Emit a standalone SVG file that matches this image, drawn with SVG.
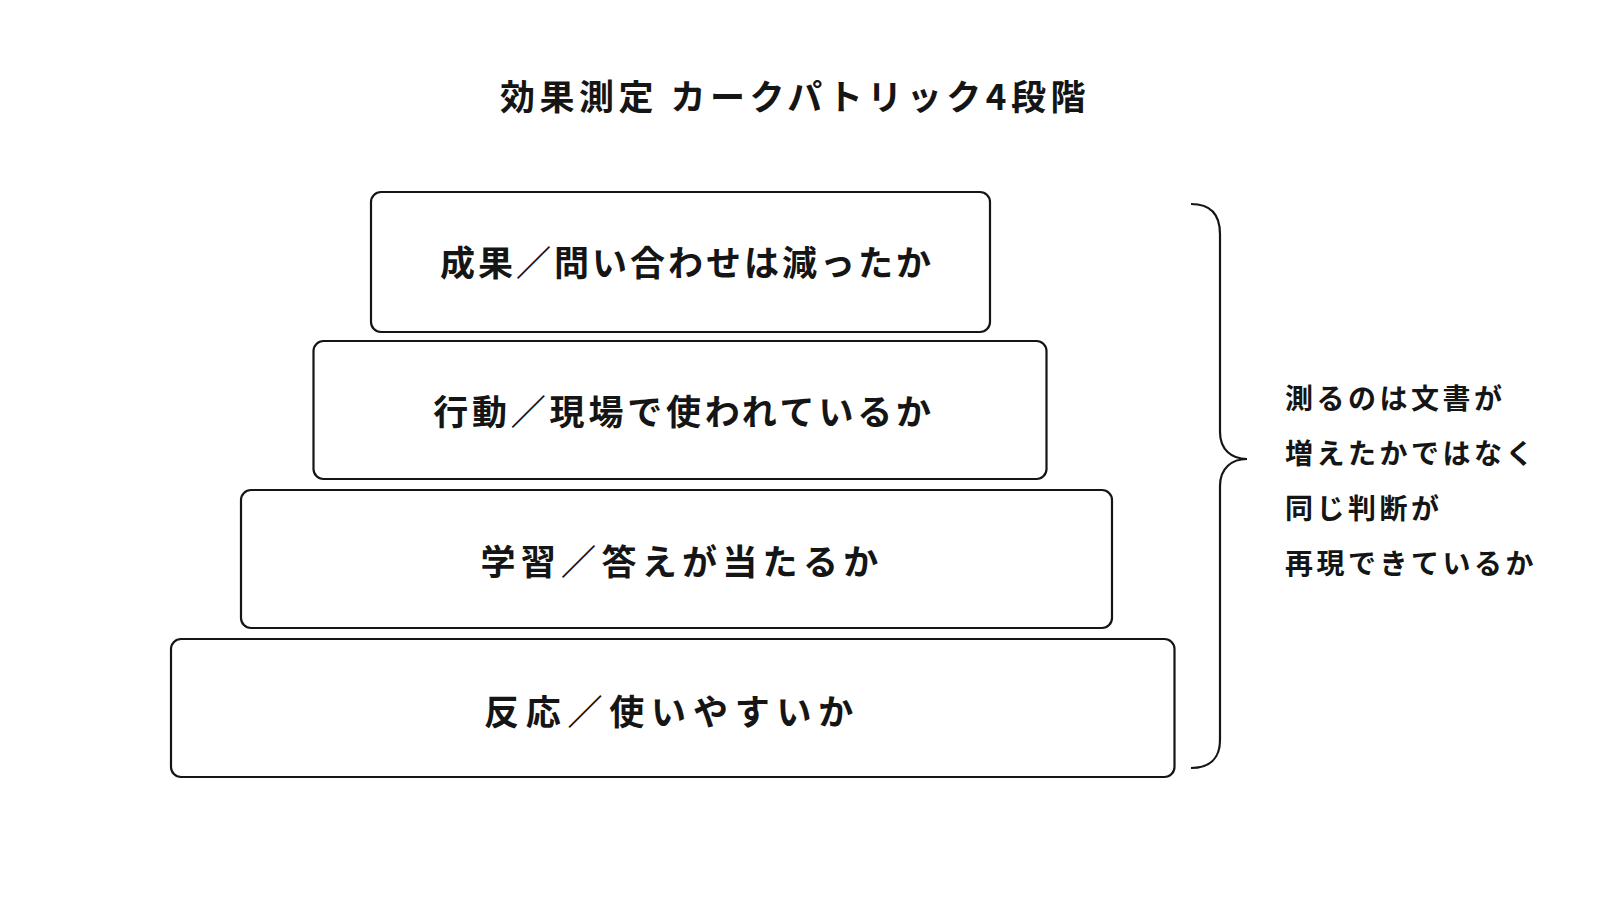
<svg xmlns="http://www.w3.org/2000/svg" width="1600" height="900" viewBox="0 0 1600 900">
<style>
.box{fill:#fff;stroke:#151515;stroke-width:2.2}
.lbl{font-family:"Noto Sans CJK JP","Noto Sans",sans-serif;font-weight:700;font-size:35px;fill:#151515;text-anchor:middle;dominant-baseline:central}
.side{font-family:"Noto Sans CJK JP","Noto Sans",sans-serif;font-weight:700;font-size:28px;fill:#151515;letter-spacing:3.5px;dominant-baseline:central}
.title{font-family:"Noto Sans CJK JP","Noto Sans",sans-serif;font-weight:700;font-size:35px;fill:#151515;text-anchor:middle;letter-spacing:4.5px;dominant-baseline:central}
.brace{fill:none;stroke:#151515;stroke-width:2.2}
</style>
<rect width="1600" height="900" fill="#fff"/>
<text class="title" x="795" y="94">効果測定 カークパトリック4段階</text>
<g id="node-result">
<rect class="box" x="371" y="192" width="619" height="140" rx="10"/>
<text class="lbl" x="687" y="260" letter-spacing="3">成果／問い合わせは減ったか</text>
</g>
<g id="node-behavior">
<rect class="box" x="313.5" y="341" width="733" height="138" rx="10"/>
<text class="lbl" x="684" y="409" letter-spacing="3.8">行動／現場で使われているか</text>
</g>
<g id="node-learning">
<rect class="box" x="241" y="490" width="871" height="138" rx="10"/>
<text class="lbl" x="682" y="559" letter-spacing="5.3">学習／答えが当たるか</text>
</g>
<g id="node-reaction">
<rect class="box" x="171" y="639" width="1003.5" height="138" rx="10"/>
<text class="lbl" x="672" y="709" letter-spacing="6.8">反応／使いやすいか</text>
</g>
<g id="connectors">
<path class="brace" d="M1191,204 C1210,204 1220,214 1220,234 L1220,432 C1220,450 1232,459 1247,459 C1232,459 1220,468 1220,486 L1220,740 C1220,758 1210,768 1191,768"/>
</g>
<g id="note">
<text class="side" x="1285" y="397">測るのは文書が</text>
<text class="side" x="1285" y="452">増えたかではなく</text>
<text class="side" x="1285" y="507">同じ判断が</text>
<text class="side" x="1285" y="562">再現できているか</text>
</g>
</svg>
